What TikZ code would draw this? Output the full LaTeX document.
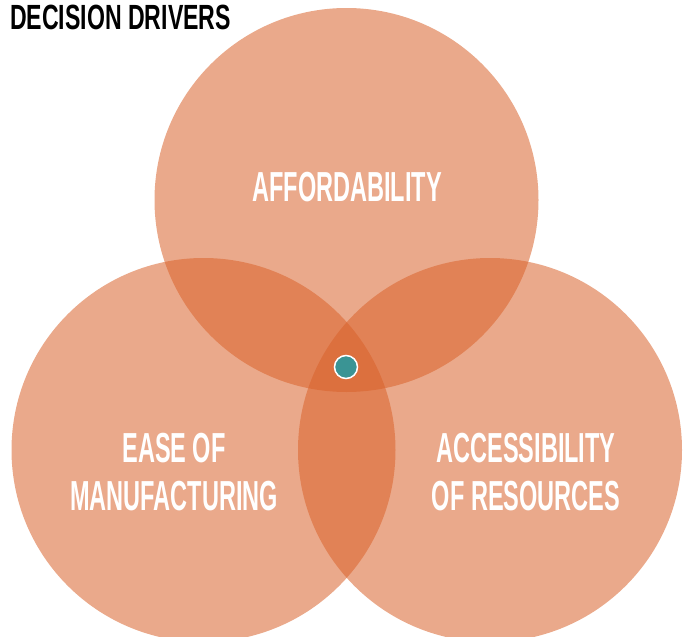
\documentclass[tikz,border=0pt]{standalone}
\usepackage{fontspec}
\usepackage{tikz}
\newfontfamily\driverfont{Liberation Sans}[FakeStretch=0.56]
\newfontfamily\titlefont{Liberation Sans}[FakeStretch=0.66]
\definecolor{petal}{RGB}{217, 98, 43}
\definecolor{dotc}{RGB}{58, 148, 148}
\usetikzlibrary{positioning}
\tikzset{
  driver/.style={circle, minimum size=384pt, inner sep=0pt, fill=petal, fill opacity=0.55, draw=none},
  drivertext/.style={text=white, align=center, font=\driverfont\bfseries\fontsize{42}{48}\selectfont, inner sep=0pt},
}

\begin{document}
\begin{tikzpicture}[x=1pt, y=1pt]
\useasboundingbox (0pt, 0pt) rectangle (688pt, -637pt);
\node (afford) [driver] at (346.5pt, -200.0pt) {};
\node (ease) [driver] at (203.5pt, -450.0pt) {};
\node (access) [driver] at (490.0pt, -450.0pt) {};
\node (afford label) [drivertext] at (347.0pt, -187.0pt) {AFFORDABILITY};
\node (ease label) [drivertext] at (174.0pt, -472.0pt) {EASE OF\\MANUFACTURING};
\node (access label) [drivertext] at (526.0pt, -472.0pt) {ACCESSIBILITY\\OF RESOURCES};
\node (core) [circle, minimum size=23pt, inner sep=0pt, fill=dotc, line width=1.5pt, draw=white] at (346.0pt, -367.0pt) {};
\node (title) [anchor=base west, inner sep=0pt, font=\titlefont\bfseries\fontsize{35}{38}\selectfont] at (10.0pt, -29.0pt) {DECISION DRIVERS};
\end{tikzpicture}
\end{document}
